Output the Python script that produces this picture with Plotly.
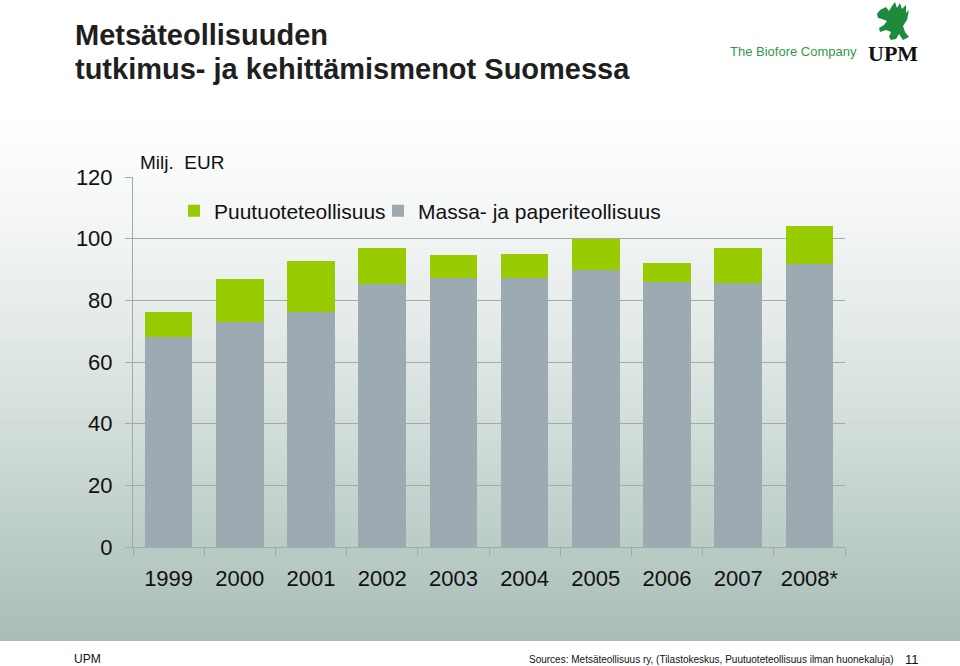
import plotly.graph_objects as go

years = ["1999", "2000", "2001", "2002", "2003", "2004", "2005", "2006", "2007", "2008*"]
massa_paperi = [68.2, 73.1, 76.2, 85.4, 87.3, 87.3, 90.0, 86.0, 85.5, 91.7]
puutuote = [7.9, 13.9, 16.4, 11.5, 7.3, 7.7, 9.8, 6.0, 11.6, 12.4]
y_ticks = [0, 20, 40, 60, 80, 100, 120]

W, H = 960, 666
L, R, T, B = 133, 115, 177, 119
PW, PH = W - L - R, H - T - B


def px_x(x):
    return (x - L) / PW


def px_y(y):
    return (H - B - y) / PH


FONT = "Arial, Liberation Sans, sans-serif"
GRID = "#a3aba8"

fig = go.Figure()
fig.add_trace(go.Bar(
    x=years, y=massa_paperi, name="Massa- ja paperiteollisuus",
    marker=dict(color="#9daab1", line=dict(width=0)), legend="legend2",
))
fig.add_trace(go.Bar(
    x=years, y=puutuote, name="Puutuoteteollisuus",
    marker=dict(color="#99cc00", line=dict(width=0)), legend="legend",
))

# background gradient (white -> grey-green)
shapes = []
top_px, bot_px = 105, 641
n = 80
c0 = (255, 255, 255)
c1 = (167, 189, 182)
for i in range(n):
    y0 = top_px + (bot_px - top_px) * i / n
    y1 = top_px + (bot_px - top_px) * (i + 1) / n + 0.6
    t = ((i + 0.5) / n) ** 1.3
    col = tuple(round(a + (b - a) * t) for a, b in zip(c0, c1))
    shapes.append(dict(
        type="rect", xref="paper", yref="paper", layer="below",
        x0=px_x(0), x1=px_x(W), y0=px_y(min(y1, bot_px)), y1=px_y(y0),
        fillcolor="rgb(%d,%d,%d)" % col, line=dict(width=0),
    ))

annotations = [
    dict(text="<b>Metsäteollisuuden</b>", x=px_x(73), y=px_y(53), xref="paper", yref="paper",
         xanchor="left", yanchor="bottom", showarrow=False,
         font=dict(family=FONT, size=29, color="#1f1f1f")),
    dict(text="<b>tutkimus- ja kehittämismenot Suomessa</b>", x=px_x(73), y=px_y(87), xref="paper", yref="paper",
         xanchor="left", yanchor="bottom", showarrow=False,
         font=dict(family=FONT, size=29, color="#1f1f1f")),
    dict(text="Milj.  EUR", x=px_x(138), y=px_y(162), xref="paper", yref="paper",
         xanchor="left", yanchor="middle", showarrow=False,
         font=dict(family=FONT, size=19, color="#111111")),
    dict(text="The Biofore Company", x=px_x(859), y=px_y(52), xref="paper", yref="paper",
         xanchor="right", yanchor="middle", showarrow=False,
         font=dict(family=FONT, size=13, color="#2f9a48")),
    dict(text="<b>UPM</b>", x=px_x(893), y=px_y(53), xref="paper", yref="paper",
         xanchor="center", yanchor="middle", showarrow=False,
         font=dict(family="Liberation Serif, Times New Roman, serif", size=22, color="#111111")),
    dict(text="UPM", x=px_x(72), y=px_y(659), xref="paper", yref="paper",
         xanchor="left", yanchor="middle", showarrow=False,
         font=dict(family=FONT, size=12, color="#111111")),
    dict(text="Sources: Metsäteollisuus ry, (Tilastokeskus, Puutuoteteollisuus ilman huonekaluja)",
         x=px_x(896), y=px_y(659), xref="paper", yref="paper",
         xanchor="right", yanchor="middle", showarrow=False,
         font=dict(family="Liberation Sans Narrow, Arial Narrow, " + FONT, size=10, color="#111111")),
    dict(text="11", x=px_x(912), y=px_y(659), xref="paper", yref="paper",
         xanchor="center", yanchor="middle", showarrow=False,
         font=dict(family="Liberation Sans Narrow, Arial Narrow, " + FONT, size=13, color="#111111")),
]

# stylized green griffin emblem above "UPM"
emblem_px = [(877, 14), (880, 10), (886, 7), (889, 11), (892, 6), (895, 2), (897, 8), (900, 3),
             (902, 9), (906, 5), (906, 13), (909, 10), (907, 20), (903, 26), (905, 32), (909, 37),
             (903, 40), (899, 34), (896, 39), (891, 40), (889, 37), (891, 32), (886, 30), (880, 32),
             (879, 28), (884, 25), (887, 21), (882, 19), (878, 18)]
path = "M " + " L ".join("%f,%f" % (px_x(x), px_y(y)) for x, y in emblem_px) + " Z"
shapes.append(dict(type="path", xref="paper", yref="paper", layer="above", path=path,
                   fillcolor="#1f8a3b", line=dict(width=0)))

legend_style = dict(orientation="h", yanchor="middle", bgcolor="rgba(0,0,0,0)",
                    font=dict(size=21, family=FONT, color="#111111"), itemwidth=30)

fig.update_layout(
    width=W, height=H,
    margin=dict(l=L, r=R, t=T, b=B, pad=0),
    paper_bgcolor="white", plot_bgcolor="rgba(0,0,0,0)",
    barmode="stack", bargap=0.33,
    font=dict(family=FONT, size=22, color="#111111"),
    showlegend=True,
    legend=dict(x=px_x(174), y=px_y(211), xanchor="left", **legend_style),
    legend2=dict(x=px_x(378), y=px_y(211), xanchor="left", **legend_style),
    shapes=shapes, annotations=annotations,
    xaxis=dict(type="category", showgrid=False, showline=True, linecolor=GRID, linewidth=1,
               ticks="outside", tickson="boundaries", ticklen=8, tickcolor=GRID,
               tickfont=dict(size=22, family=FONT, color="#111111"), ticklabelstandoff=12),
    yaxis=dict(range=[0, 120], tickvals=y_ticks, showgrid=True, gridcolor=GRID, gridwidth=1,
               showline=True, linecolor=GRID, linewidth=1, zeroline=False,
               ticks="outside", ticklen=7, tickcolor=GRID,
               tickfont=dict(size=22, family=FONT, color="#111111"), ticklabelstandoff=8),
)

fig.write_html("out.html", config={"displayModeBar": False},
               post_script="document.body.style.margin='0px';document.body.style.overflow='hidden';")
